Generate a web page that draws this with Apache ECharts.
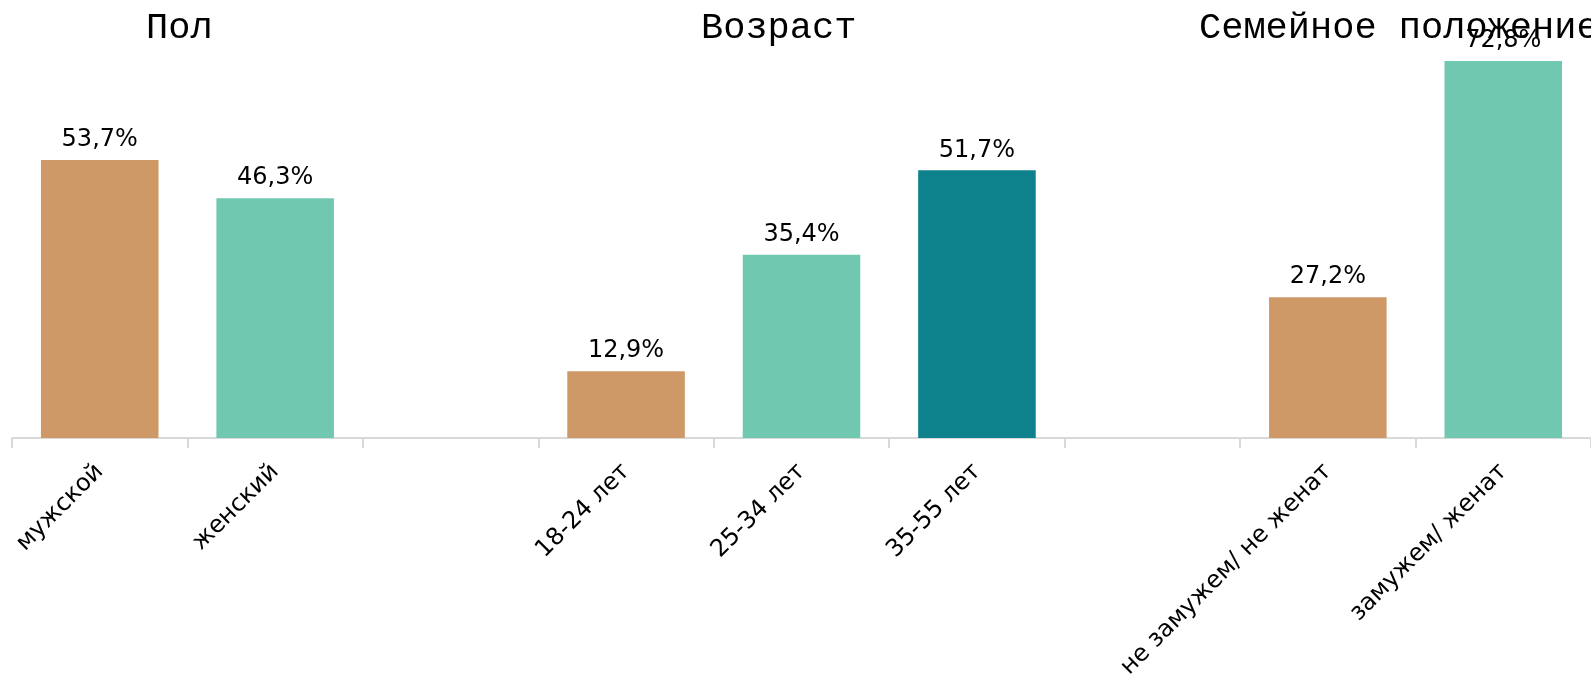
<!DOCTYPE html>
<html><head><meta charset="utf-8">
<script src="https://cdn.jsdelivr.net/npm/echarts@6/dist/echarts.min.js"></script>
<style>html,body{margin:0;padding:0;background:#fff}#c{width:1591px;height:676px}</style>
</head><body><div id="c"></div>
<script>
const categories = ['мужской', 'женский', '', '18-24 лет', '25-34 лет', '35-55 лет', '', 'не замужем/ не женат', 'замужем/ женат'];
const values = [53.7, 46.3, null, 12.9, 35.4, 51.7, null, 27.2, 72.8];
const groupTitles = ['Пол', 'Возраст', 'Семейное положение'];

const palette = ['#CF9867', '#71C8B0', '#0E828C'];
let rank = 0;
const barData = values.map(v => {
  if (v === null) { rank = 0; return null; }
  const c = palette[rank++];
  return { value: v, itemStyle: { color: c } };
});

const titleLefts = [146, 701, 1199];
const chart = echarts.init(document.getElementById('c'));
chart.setOption({
  animation: false,
  title: groupTitles.map((t, i) => ({
    text: t, left: titleLefts[i], top: 10, padding: 0,
    textStyle: { fontFamily: 'Liberation Mono', fontSize: 37, fontWeight: 'normal', color: '#000' }
  })),
  grid: { left: 12, right: 0, top: 61, bottom: 238, containLabel: false, outerBoundsMode: 'none' },
  xAxis: {
    type: 'category', data: categories,
    axisLine: { lineStyle: { color: '#d9d9d9', width: 2 } },
    axisTick: { show: true, length: 10, lineStyle: { color: '#d9d9d9', width: 2 } },
    axisLabel: { rotate: 45, interval: 0, margin: 30, fontFamily: 'DejaVu Sans', fontSize: 24, color: '#000' }
  },
  yAxis: { type: 'value', min: 0, max: 72.8, show: false, splitLine: { show: false } },
  series: [{
    type: 'bar', data: barData, barWidth: '67%',
    label: { show: true, position: 'top', distance: 8, fontFamily: 'DejaVu Sans', fontSize: 24, color: '#000',
      formatter: p => p.value.toFixed(1).replace('.', ',') + '%' }
  }]
});
</script></body></html>
